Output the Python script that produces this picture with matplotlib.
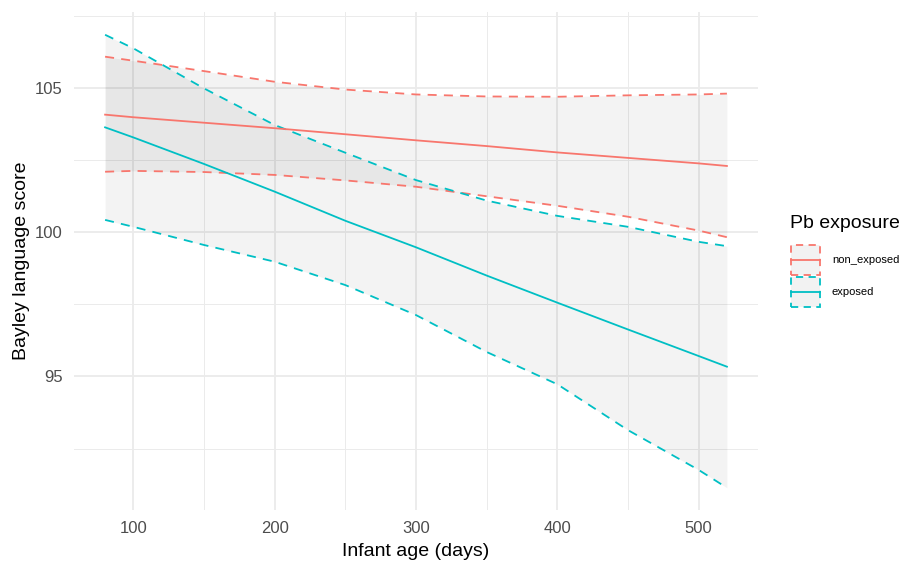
import matplotlib
matplotlib.use("Agg")
import matplotlib.pyplot as plt
from matplotlib.patches import Rectangle
from matplotlib.lines import Line2D
from matplotlib.ticker import MultipleLocator

plt.rcParams['font.family'] = ['Liberation Sans', 'DejaVu Sans']

age = [80, 100, 150, 200, 250, 300, 350, 400, 450, 500, 520]
ne_fit = [104.08, 103.99, 103.80, 103.61, 103.40, 103.19, 102.99, 102.77, 102.58, 102.39, 102.30]
ne_up = [106.09, 105.95, 105.59, 105.22, 104.95, 104.78, 104.71, 104.70, 104.75, 104.78, 104.81]
ne_lo = [102.10, 102.13, 102.09, 101.99, 101.80, 101.58, 101.25, 100.92, 100.54, 100.06, 99.83]
ex_fit = [103.64, 103.29, 102.37, 101.41, 100.40, 99.48, 98.50, 97.56, 96.63, 95.71, 95.34]
ex_up = [106.85, 106.38, 104.99, 103.72, 102.76, 101.81, 101.10, 100.57, 100.19, 99.67, 99.52]
ex_lo = [100.43, 100.19, 99.56, 98.98, 98.17, 97.13, 95.85, 94.73, 93.14, 91.76, 91.14]

groups = ["non_exposed", "exposed"]
colors = ["#F8766D", "#00BFC4"]
x_ticks = [100, 200, 300, 400, 500]
y_ticks = [95, 100, 105]

fig = plt.figure(figsize=(9.04, 5.63), dpi=100)
ax = fig.add_axes([74/904, 1-510/563, (758-74)/904, (510-11.7)/563])

series = [(ne_fit, ne_up, ne_lo), (ex_fit, ex_up, ex_lo)]
dash = (0, (5, 4))
for (fit, up, lo), c in zip(series, colors):
    ax.fill_between(age, lo, up, color="black", alpha=0.048, lw=0, zorder=2)
for (fit, up, lo), c in zip(series, colors):
    ax.plot(age, up, color=c, lw=1.3, linestyle=dash, zorder=3)
    ax.plot(age, lo, color=c, lw=1.3, linestyle=dash, zorder=3)
    ax.plot(age, fit, color=c, lw=1.3, zorder=4)

ax.set_xlim(58, 542)
ax.set_ylim(90.37, 107.65)
ax.set_xticks(x_ticks)
ax.set_yticks(y_ticks)
ax.xaxis.set_minor_locator(MultipleLocator(50))
ax.yaxis.set_minor_locator(MultipleLocator(2.5))
ax.grid(which="major", color="#EBEBEB", lw=1.3, zorder=0)
ax.grid(which="minor", color="#EBEBEB", lw=0.7, zorder=0)
ax.set_axisbelow(True)
for s in ax.spines.values():
    s.set_visible(False)
ax.tick_params(which="both", length=0)
ax.tick_params(axis="both", labelsize=12, labelcolor="#4D4D4D", pad=8)
ax.set_xlabel("Infant age (days)", fontsize=14, labelpad=5)
ax.set_ylabel("Bayley language score", fontsize=14, labelpad=4)

# legend (ggplot style)
fig.text(790/904, 1-224/563, "Pb exposure", fontsize=14, va="center", ha="left")
key_tops = [245, 277]
for i, (g, c) in enumerate(zip(groups, colors)):
    top = key_tops[i]
    h = 30
    x0, w = 791, 29
    r = Rectangle((x0/904, 1-(top+h)/563), w/904, h/563, transform=fig.transFigure,
                  facecolor="#F2F2F2", edgecolor=c, lw=1.3, linestyle=(0, (4, 3)))
    fig.add_artist(r)
    ym = 1-(top+h/2)/563
    fig.add_artist(Line2D([x0/904, (x0+w)/904], [ym, ym], transform=fig.transFigure,
                          color=c, lw=1.3))
    fig.text(832/904, ym, g, fontsize=8, va="center", ha="left", color="black")

fig.savefig("out.png", dpi=100)
